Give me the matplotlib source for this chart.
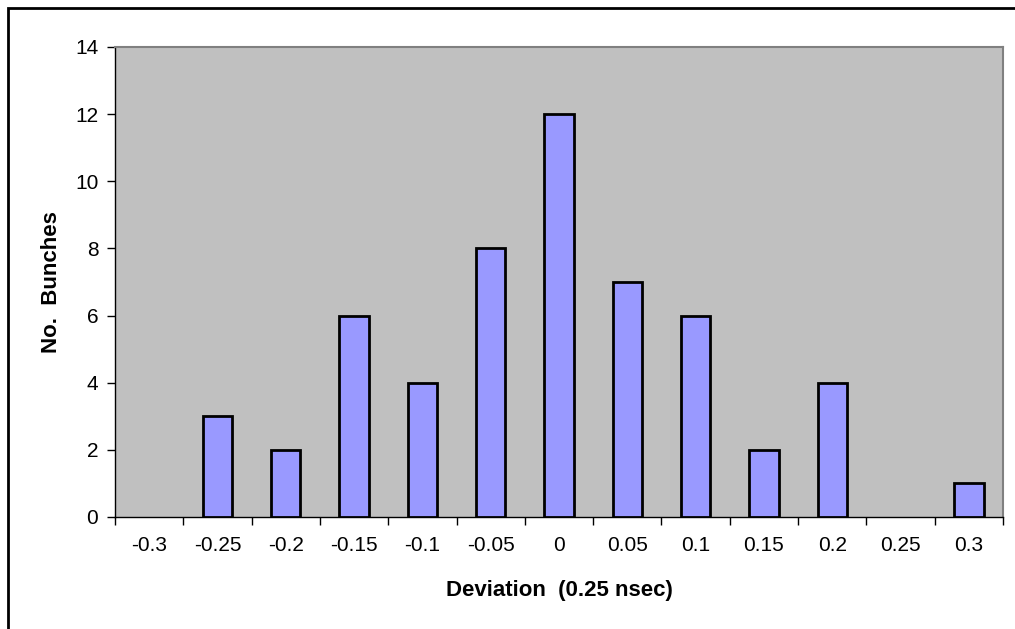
import matplotlib
matplotlib.use("Agg")
import matplotlib.pyplot as plt
from matplotlib.patches import Rectangle
import numpy as np

categories = ["-0.3", "-0.25", "-0.2", "-0.15", "-0.1", "-0.05", "0",
              "0.05", "0.1", "0.15", "0.2", "0.25", "0.3"]
bunches = [0, 3, 2, 6, 4, 8, 12, 7, 6, 2, 4, 0, 1]
y_ticks = [0, 2, 4, 6, 8, 10, 12, 14]

plt.rcParams["font.family"] = ["Liberation Sans", "DejaVu Sans"]

W, H = 1015, 629
fig = plt.figure(figsize=(W / 100, H / 100), dpi=100)
fig.patch.set_facecolor("white")

# outer chart border
fig.patches.append(Rectangle((8 / W, -0.1), 1.2, (H - 8) / H + 0.1,
                             transform=fig.transFigure, fill=False,
                             edgecolor="black", linewidth=2.0))

left, right, top, bottom = 115, 1003, 47, 517
ax = fig.add_axes([left / W, 1 - bottom / H, (right - left) / W, (bottom - top) / H])
ax.set_facecolor("#c0c0c0")

x = np.arange(len(categories))
values = np.array(bunches)
shown = values > 0  # empty categories get no bar outline
ax.bar(x[shown], values[shown], width=0.43, color="#9999ff", edgecolor="black",
       linewidth=2.0, zorder=3)

ax.set_xlim(-0.5, len(categories) - 0.5)
ax.set_ylim(0, 14)
ax.set_yticks(y_ticks)
ax.set_yticklabels([str(v) for v in y_ticks], fontsize=15)
ax.set_xticks(x)
ax.set_xticklabels(categories, fontsize=15)
ax.tick_params(axis="x", length=0, pad=14)
ax.set_xticks(np.arange(len(categories) + 1) - 0.5, minor=True)
ax.tick_params(axis="x", which="minor", length=6, width=1, color="black")
ax.tick_params(axis="y", length=6, width=1, pad=6)

for side in ("top", "right"):
    ax.spines[side].set_color("#808080")
    ax.spines[side].set_linewidth(1.5)
for side in ("left", "bottom"):
    ax.spines[side].set_color("black")
    ax.spines[side].set_linewidth(1.0)

ax.set_xlabel("Deviation  (0.25 nsec)", fontsize=16, fontweight="bold", labelpad=18)
ax.set_ylabel("No.  Bunches", fontsize=16, fontweight="bold", labelpad=9)

fig.savefig("out.png", dpi=100)
